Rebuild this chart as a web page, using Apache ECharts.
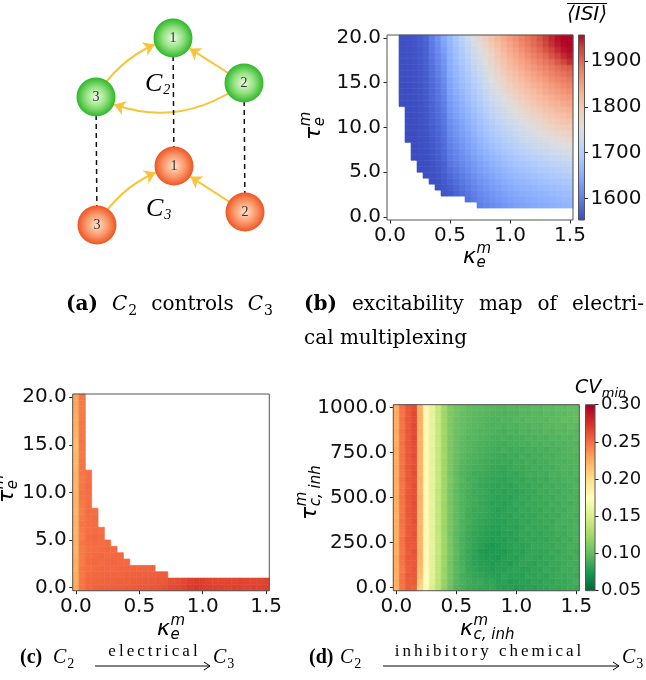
<!DOCTYPE html>
<html><head><meta charset="utf-8">
<script src="https://cdn.jsdelivr.net/npm/echarts@6/dist/echarts.min.js"></script>
<style>html,body{margin:0;padding:0;background:#fff}#chart{width:646px;height:680px}</style>
</head><body><div id="chart"></div>
<script>
// ---------------- data ----------------
const kappa = [0.00,0.05,0.10,0.15,0.20,0.25,0.30,0.35,0.40,0.45,0.50,0.55,0.60,0.65,0.70,0.75,0.80,0.85,0.90,0.95,1.00,1.05,1.10,1.15,1.20,1.25,1.30,1.35,1.40,1.45,1.50];
const tauE = [0.0,0.667,1.333,2.0,2.667,3.333,4.0,4.667,5.333,6.0,6.667,7.333,8.0,8.667,9.333,10.0,10.667,11.333,12.0,12.667,13.333,14.0,14.667,15.333,16.0,16.667,17.333,18.0,18.667,19.333,20.0];
const tauInh = [0.0,33.3,66.7,100.0,133.3,166.7,200.0,233.3,266.7,300.0,333.3,366.7,400.0,433.3,466.7,500.0,533.3,566.7,600.0,633.3,666.7,700.0,733.3,766.7,800.0,833.3,866.7,900.0,933.3,966.7,1000.0];
const kappaTicks = [0, 0.5, 1.0, 1.5];
const tauETicks = [0, 5, 10, 15, 20];
const tauInhTicks = [0, 250, 500, 750, 1000];
const isiRange = [1553, 1957];
const isiTicks = [1600, 1700, 1800, 1900];
const cvRange = [0.05, 0.30];
const cvTicks = [0.05, 0.10, 0.15, 0.20, 0.25, 0.30];

// (b) mean ISI; one row per tauE value (bottom to top); values belong to the LAST columns of kappa (right aligned)
const isiRows = [
 [],
 [],
 [1600,1607,1613,1619,1625,1630,1634,1638,1641,1645,1648,1651,1654,1657,1660,1662],
 [1587,1596,1605,1612,1619,1625,1630,1636,1640,1643,1647,1650,1653,1656,1660,1662,1665,1667],
 [1561,1565,1574,1583,1592,1601,1610,1617,1624,1630,1636,1642,1646,1650,1653,1657,1660,1663,1666,1669,1672,1674],
 [1558,1563,1570,1579,1588,1597,1606,1615,1622,1630,1636,1642,1648,1652,1656,1660,1663,1666,1670,1673,1676,1679,1681],
 [1556,1559,1566,1575,1584,1593,1602,1611,1620,1628,1635,1642,1649,1655,1659,1663,1667,1671,1675,1678,1682,1685,1688,1690],
 [1555,1557,1561,1568,1580,1589,1598,1608,1617,1626,1634,1642,1649,1656,1662,1667,1671,1675,1679,1683,1687,1691,1694,1697,1700],
 [1554,1555,1558,1563,1571,1585,1594,1604,1613,1623,1632,1640,1648,1655,1662,1669,1674,1679,1683,1688,1692,1696,1700,1704,1707,1710],
 [1554,1556,1559,1565,1573,1590,1600,1609,1619,1628,1638,1646,1655,1662,1669,1676,1681,1687,1691,1696,1701,1705,1709,1713,1717,1720],
 [1554,1555,1556,1561,1567,1576,1595,1605,1615,1624,1634,1644,1653,1662,1669,1677,1684,1690,1696,1701,1706,1711,1716,1720,1725,1729,1732],
 [1554,1555,1557,1562,1569,1578,1598,1608,1619,1629,1640,1650,1659,1668,1676,1684,1692,1698,1705,1711,1716,1722,1727,1732,1737,1741,1745],
 [1554,1556,1558,1564,1571,1581,1602,1613,1624,1634,1645,1656,1666,1675,1684,1692,1700,1707,1714,1720,1727,1732,1738,1744,1749,1754,1758],
 [1554,1554,1556,1558,1565,1573,1584,1606,1617,1628,1640,1651,1662,1672,1682,1691,1700,1708,1715,1723,1730,1737,1743,1749,1755,1761,1766,1770],
 [1554,1554,1557,1559,1567,1575,1586,1610,1622,1633,1645,1656,1668,1679,1689,1698,1707,1716,1724,1732,1739,1747,1754,1760,1767,1773,1778,1783],
 [1554,1555,1557,1560,1568,1577,1589,1613,1625,1637,1649,1661,1673,1684,1695,1705,1716,1724,1733,1741,1749,1757,1764,1772,1779,1785,1791,1796],
 [1554,1555,1558,1561,1570,1579,1592,1617,1629,1641,1654,1666,1678,1690,1702,1712,1722,1732,1741,1750,1759,1767,1775,1782,1790,1797,1803,1808],
 [1555,1555,1558,1562,1572,1582,1594,1621,1634,1646,1659,1671,1684,1697,1709,1720,1731,1741,1750,1760,1769,1777,1785,1793,1801,1808,1814,1820],
 [1555,1556,1559,1563,1573,1584,1597,1625,1638,1651,1664,1677,1690,1703,1716,1728,1739,1750,1760,1770,1779,1788,1796,1804,1812,1820,1826,1832],
 [1555,1555,1556,1559,1564,1575,1586,1600,1628,1641,1655,1668,1682,1695,1709,1723,1735,1747,1759,1769,1779,1789,1798,1807,1815,1824,1831,1838,1844],
 [1555,1555,1556,1560,1565,1577,1589,1603,1632,1646,1659,1673,1686,1700,1715,1730,1743,1756,1768,1778,1789,1798,1808,1817,1825,1834,1842,1849,1855],
 [1555,1555,1557,1560,1566,1578,1591,1606,1636,1650,1664,1678,1692,1706,1722,1737,1751,1764,1777,1788,1798,1808,1818,1827,1836,1845,1853,1860,1866],
 [1555,1555,1557,1561,1567,1580,1594,1609,1640,1654,1669,1683,1698,1712,1728,1745,1759,1773,1786,1797,1808,1818,1828,1837,1846,1855,1863,1871,1877],
 [1556,1556,1558,1562,1568,1582,1596,1612,1643,1658,1673,1688,1703,1718,1735,1752,1767,1781,1795,1806,1817,1828,1838,1847,1856,1866,1874,1881,1888],
 [1556,1556,1558,1562,1569,1584,1599,1615,1646,1662,1677,1693,1708,1724,1742,1759,1774,1790,1804,1815,1827,1837,1848,1857,1867,1876,1885,1892,1899],
 [1556,1557,1559,1563,1570,1586,1602,1619,1649,1665,1681,1698,1714,1730,1748,1767,1782,1798,1813,1825,1836,1847,1858,1867,1877,1887,1895,1903,1910],
 [1556,1557,1559,1564,1571,1588,1605,1623,1652,1669,1686,1703,1720,1737,1755,1774,1790,1806,1821,1833,1845,1856,1867,1878,1888,1898,1912,1925,1938],
 [1557,1558,1560,1565,1572,1591,1608,1627,1655,1673,1691,1708,1726,1744,1763,1781,1798,1814,1829,1842,1854,1866,1878,1888,1899,1915,1928,1940,1948],
 [1557,1558,1560,1566,1573,1594,1611,1632,1658,1677,1695,1714,1732,1751,1770,1789,1805,1822,1837,1850,1863,1876,1888,1899,1915,1928,1940,1950,1955],
 [1557,1559,1561,1567,1574,1597,1615,1638,1661,1681,1701,1720,1740,1760,1779,1797,1814,1830,1845,1858,1872,1884,1897,1908,1925,1938,1948,1955,1957],
 [1558,1559,1562,1567,1576,1600,1620,1645,1665,1686,1707,1728,1749,1770,1788,1806,1822,1837,1852,1865,1877,1889,1900,1915,1930,1942,1952,1957,1957]
];

// (c) CV_min, electrical coupling; one column per kappa value, values from tauE = 0 upwards
const cvElecCols = [
 [0.226,0.225,0.224,0.223,0.224,0.222,0.221,0.222,0.221,0.220,0.221,0.222,0.220,0.221,0.222,0.221,0.220,0.221,0.222,0.220,0.219,0.220,0.218,0.219,0.221,0.222,0.224,0.225,0.226,0.227,0.228],
 [0.247,0.246,0.245,0.246,0.245,0.244,0.245,0.246,0.244,0.245,0.246,0.245,0.244,0.245,0.246,0.247,0.246,0.245,0.246,0.247,0.246,0.245,0.246,0.247,0.246,0.245,0.246,0.245,0.244,0.245,0.246],
 [0.253,0.252,0.251,0.250,0.251,0.250,0.249,0.250,0.251,0.250,0.249,0.250,0.251,0.250,0.249,0.250,0.251,0.250,0.249],
 [0.254,0.253,0.252,0.251,0.252,0.251,0.250,0.251,0.252,0.251,0.250,0.251,0.250],
 [0.255,0.253,0.252,0.252,0.251,0.252,0.251,0.250,0.251,0.250],
 [0.255,0.254,0.253,0.252,0.252,0.251,0.252,0.251],
 [0.256,0.254,0.253,0.252,0.253,0.252,0.251],
 [0.256,0.255,0.253,0.253,0.252,0.252],
 [0.257,0.255,0.254,0.253,0.252],
 [0.257,0.256,0.254,0.253],
 [0.258,0.256,0.255,0.253],
 [0.258,0.257,0.255,0.254],
 [0.259,0.257,0.255,0.254],
 [0.260,0.258,0.256],
 [0.261,0.259,0.257],
 [0.264,0.262],[0.265,0.263],[0.267,0.265],[0.270,0.268],[0.272,0.270],[0.271,0.269],
 [0.269,0.267],[0.268,0.266],[0.268,0.266],[0.267,0.266],[0.268,0.266],[0.268,0.267],
 [0.267,0.266],[0.268,0.266],[0.267,0.266],[0.268,0.267]
];

// (d) CV_min, inhibitory chemical coupling; one row per tauInh value (bottom to top), one value per kappa
const cvInhRows = [
 [0.222,0.246,0.256,0.255,0.205,0.172,0.152,0.135,0.118,0.104,0.094,0.090,0.087,0.086,0.084,0.083,0.085,0.081,0.079,0.080,0.078,0.080,0.081,0.079,0.082,0.083,0.085,0.084,0.086,0.088,0.087],
 [0.225,0.248,0.257,0.258,0.210,0.175,0.154,0.137,0.119,0.105,0.095,0.091,0.088,0.085,0.086,0.082,0.083,0.080,0.081,0.078,0.079,0.081,0.080,0.082,0.081,0.084,0.083,0.086,0.085,0.087,0.089],
 [0.223,0.247,0.258,0.259,0.216,0.177,0.156,0.138,0.121,0.106,0.096,0.090,0.087,0.084,0.083,0.081,0.080,0.079,0.082,0.080,0.081,0.079,0.083,0.082,0.084,0.082,0.085,0.087,0.086,0.088,0.087],
 [0.224,0.245,0.256,0.260,0.219,0.178,0.157,0.139,0.120,0.107,0.097,0.092,0.086,0.083,0.081,0.080,0.078,0.080,0.079,0.081,0.082,0.080,0.081,0.083,0.082,0.085,0.084,0.086,0.088,0.087,0.089],
 [0.225,0.247,0.257,0.259,0.221,0.179,0.158,0.139,0.122,0.106,0.096,0.091,0.085,0.082,0.080,0.079,0.077,0.079,0.080,0.078,0.081,0.083,0.082,0.081,0.084,0.083,0.086,0.085,0.087,0.089,0.088],
 [0.226,0.248,0.258,0.260,0.222,0.180,0.157,0.140,0.121,0.107,0.097,0.090,0.086,0.081,0.079,0.077,0.078,0.076,0.079,0.080,0.079,0.082,0.084,0.083,0.082,0.085,0.084,0.087,0.088,0.087,0.090],
 [0.224,0.246,0.257,0.261,0.223,0.179,0.158,0.141,0.123,0.108,0.098,0.091,0.085,0.082,0.078,0.076,0.077,0.078,0.077,0.079,0.081,0.080,0.083,0.084,0.083,0.084,0.086,0.085,0.088,0.089,0.088],
 [0.225,0.247,0.258,0.259,0.222,0.181,0.159,0.140,0.122,0.107,0.097,0.092,0.087,0.083,0.080,0.078,0.076,0.077,0.079,0.080,0.082,0.081,0.082,0.085,0.084,0.086,0.085,0.088,0.087,0.090,0.089],
 [0.223,0.248,0.259,0.260,0.223,0.180,0.158,0.141,0.123,0.108,0.098,0.091,0.086,0.084,0.081,0.079,0.078,0.079,0.078,0.081,0.080,0.083,0.084,0.083,0.085,0.084,0.087,0.086,0.089,0.088,0.091],
 [0.224,0.246,0.257,0.261,0.222,0.179,0.157,0.140,0.122,0.106,0.097,0.092,0.087,0.083,0.082,0.080,0.079,0.078,0.080,0.079,0.082,0.084,0.083,0.085,0.084,0.086,0.085,0.088,0.087,0.090,0.091],
 [0.225,0.247,0.258,0.260,0.223,0.180,0.158,0.139,0.121,0.107,0.098,0.093,0.088,0.085,0.083,0.081,0.080,0.079,0.081,0.082,0.081,0.083,0.085,0.084,0.086,0.085,0.087,0.089,0.088,0.090,0.092],
 [0.224,0.248,0.257,0.262,0.222,0.181,0.159,0.141,0.122,0.108,0.099,0.092,0.089,0.086,0.084,0.082,0.081,0.080,0.080,0.083,0.082,0.084,0.083,0.086,0.085,0.087,0.086,0.089,0.090,0.089,0.091],
 [0.223,0.247,0.258,0.261,0.223,0.180,0.157,0.140,0.123,0.107,0.098,0.093,0.088,0.087,0.085,0.083,0.082,0.081,0.082,0.081,0.084,0.083,0.085,0.084,0.087,0.086,0.088,0.087,0.090,0.091,0.090],
 [0.225,0.246,0.259,0.262,0.222,0.179,0.158,0.141,0.122,0.108,0.099,0.094,0.089,0.086,0.086,0.084,0.082,0.080,0.081,0.083,0.082,0.085,0.084,0.086,0.085,0.088,0.087,0.089,0.088,0.091,0.092],
 [0.224,0.247,0.258,0.263,0.223,0.180,0.159,0.140,0.121,0.107,0.098,0.093,0.090,0.087,0.085,0.083,0.081,0.082,0.080,0.082,0.084,0.083,0.086,0.085,0.087,0.086,0.089,0.088,0.090,0.089,0.091],
 [0.226,0.248,0.259,0.262,0.224,0.181,0.158,0.141,0.123,0.108,0.099,0.094,0.089,0.088,0.086,0.084,0.083,0.081,0.082,0.081,0.083,0.085,0.084,0.087,0.086,0.088,0.087,0.090,0.089,0.092,0.091],
 [0.225,0.247,0.258,0.261,0.223,0.180,0.157,0.140,0.122,0.107,0.098,0.093,0.090,0.087,0.087,0.085,0.082,0.083,0.081,0.083,0.082,0.084,0.086,0.085,0.088,0.087,0.089,0.088,0.091,0.090,0.092],
 [0.224,0.246,0.257,0.263,0.222,0.179,0.158,0.141,0.123,0.108,0.099,0.094,0.091,0.088,0.086,0.084,0.083,0.082,0.083,0.082,0.084,0.086,0.085,0.087,0.086,0.089,0.088,0.090,0.089,0.091,0.093],
 [0.225,0.248,0.259,0.262,0.224,0.181,0.159,0.142,0.122,0.109,0.100,0.095,0.090,0.089,0.087,0.085,0.084,0.083,0.082,0.084,0.085,0.084,0.087,0.086,0.088,0.087,0.090,0.089,0.091,0.092,0.091],
 [0.224,0.247,0.258,0.264,0.223,0.180,0.158,0.141,0.123,0.108,0.099,0.094,0.091,0.088,0.088,0.086,0.085,0.084,0.083,0.085,0.084,0.086,0.088,0.087,0.089,0.088,0.091,0.090,0.092,0.091,0.093],
 [0.226,0.248,0.259,0.263,0.224,0.181,0.159,0.142,0.124,0.109,0.100,0.095,0.092,0.090,0.089,0.087,0.086,0.085,0.084,0.086,0.087,0.086,0.088,0.089,0.088,0.090,0.089,0.091,0.093,0.092,0.094],
 [0.225,0.247,0.258,0.262,0.223,0.180,0.158,0.141,0.123,0.109,0.101,0.096,0.093,0.091,0.090,0.088,0.087,0.086,0.087,0.085,0.088,0.087,0.089,0.088,0.090,0.089,0.091,0.092,0.091,0.093,0.094],
 [0.224,0.248,0.259,0.264,0.224,0.181,0.159,0.142,0.124,0.110,0.101,0.097,0.094,0.092,0.091,0.089,0.088,0.087,0.086,0.088,0.087,0.089,0.088,0.090,0.089,0.091,0.090,0.092,0.093,0.094,0.093],
 [0.226,0.247,0.258,0.263,0.225,0.180,0.158,0.141,0.123,0.109,0.102,0.098,0.095,0.093,0.091,0.090,0.089,0.088,0.089,0.087,0.089,0.088,0.090,0.089,0.091,0.090,0.092,0.091,0.093,0.094,0.095],
 [0.225,0.248,0.259,0.264,0.224,0.181,0.159,0.142,0.124,0.110,0.102,0.098,0.096,0.094,0.092,0.091,0.090,0.089,0.088,0.090,0.089,0.091,0.090,0.092,0.091,0.093,0.092,0.094,0.093,0.095,0.094],
 [0.224,0.247,0.258,0.265,0.223,0.180,0.158,0.141,0.123,0.110,0.103,0.099,0.096,0.095,0.093,0.092,0.091,0.090,0.091,0.089,0.091,0.090,0.092,0.091,0.093,0.092,0.094,0.093,0.095,0.094,0.096],
 [0.226,0.248,0.259,0.264,0.225,0.181,0.159,0.142,0.124,0.111,0.103,0.100,0.097,0.095,0.094,0.093,0.092,0.091,0.090,0.092,0.091,0.093,0.092,0.094,0.093,0.095,0.094,0.096,0.095,0.097,0.096],
 [0.225,0.247,0.258,0.265,0.224,0.180,0.158,0.141,0.123,0.110,0.104,0.100,0.098,0.096,0.095,0.093,0.092,0.093,0.091,0.093,0.092,0.094,0.093,0.095,0.094,0.096,0.095,0.097,0.096,0.098,0.097],
 [0.224,0.248,0.259,0.264,0.225,0.181,0.159,0.142,0.124,0.111,0.104,0.101,0.098,0.097,0.096,0.094,0.093,0.092,0.094,0.093,0.095,0.094,0.096,0.095,0.097,0.096,0.098,0.097,0.099,0.098,0.099],
 [0.226,0.247,0.258,0.265,0.224,0.180,0.158,0.141,0.123,0.110,0.105,0.101,0.099,0.097,0.096,0.095,0.094,0.093,0.092,0.094,0.093,0.095,0.094,0.096,0.095,0.097,0.096,0.098,0.097,0.099,0.100],
 [0.225,0.248,0.259,0.264,0.223,0.181,0.159,0.142,0.124,0.111,0.105,0.102,0.099,0.098,0.097,0.096,0.095,0.094,0.093,0.095,0.094,0.096,0.095,0.097,0.096,0.098,0.097,0.099,0.098,0.100,0.099]
];

// (a) network diagram
const nodeIds = ['C2-1','C2-2','C2-3','C3-1','C3-2','C3-3'];
const nodeText = ['1','2','3','1','2','3'];
const nodeLayer = ['C2','C2','C2','C3','C3','C3'];
const nodeX = [113, 184, 36, 114, 185, 37];
const nodeY = [38, 83, 97, 166, 212, 225];
const arrowLinks = [['C2-3','C2-1',0.2],['C2-2','C2-1',0],['C2-2','C2-3',0.3],['C3-3','C3-1',0.2],['C3-2','C3-1',0]];
const dashedLinks = [['C2-1','C3-1'],['C2-2','C3-2'],['C2-3','C3-3']];

// ---------------- styles ----------------
const coolwarm = ['#3b4cc0','#4d68d7','#6282ea','#779af7','#8db0fe','#a3c2ff','#b8d0f9','#ccd9ee','#dddddd','#ecd3c5','#f5c4ad','#f7b194','#f49a7b','#ec7f63','#de604d','#cb3e38','#b40426'];
const rdylgnR = ['#006837','#1a9850','#66bd63','#a6d96a','#d9ef8b','#ffffbf','#fee08b','#fdae61','#f46d43','#d73027','#a50026'];
const SANS = '"DejaVu Sans", sans-serif';
const SERIF = '"Liberation Serif", "DejaVu Serif", serif';
const WSERIF = '"DejaVu Serif", "Liberation Serif", serif';
const TICK_FS = 20;

// ---------------- build data ----------------
const isiData = [];
isiRows.forEach((row, r) => { const off = kappa.length - row.length; row.forEach((v, k) => isiData.push([kappa[off + k], tauE[r], v])); });
const elecData = [];
cvElecCols.forEach((col, i) => col.forEach((v, r) => elecData.push([kappa[i], tauE[r], v])));
const inhData = [];
cvInhRows.forEach((row, r) => row.forEach((v, c) => inhData.push([kappa[c], tauInh[r], v])));

const step = a => (a[a.length - 1] - a[0]) / (a.length - 1);
const dK = step(kappa), dTE = step(tauE), dTI = step(tauInh);

function cellItem(dx, dy) {
  return function (params, api) {
    const x = api.value(0), y = api.value(1);
    const a = api.coord([x - dx / 2, y + dy / 2]);
    const b = api.coord([x + dx / 2, y - dy / 2]);
    const c = api.visual('color');
    return { type: 'rect', shape: { x: a[0], y: a[1], width: b[0] - a[0], height: b[1] - a[1] },
      style: { fill: c, stroke: c, lineWidth: 0.6 } };
  };
}
function colorbarItem(colors) {
  return function (params, api) {
    const a = api.coord([0, api.value(1)]);
    const b = api.coord([1, api.value(2)]);
    return { type: 'rect', shape: { x: a[0], y: b[1], width: b[0] - a[0], height: a[1] - b[1] },
      style: { fill: new echarts.graphic.LinearGradient(0, 1, 0, 0, colors.map((c, i) => ({ offset: i / (colors.length - 1), color: c }))) } };
  };
}

function tickAxis(gi, min, max, ticks, fmt, extra) {
  return Object.assign({
    type: 'value', gridIndex: gi, min: min, max: max,
    axisLine: { show: false, onZero: false },
    axisTick: { show: true, inside: false, length: 3.5, customValues: ticks, lineStyle: { color: '#222', width: 1 } },
    axisLabel: { show: true, customValues: ticks, formatter: fmt, fontFamily: SANS, fontSize: TICK_FS, color: '#111', margin: 6 },
    splitLine: { show: false }
  }, extra || {});
}
function hiddenAxis(gi, min, max, extra) {
  return Object.assign({ type: 'value', gridIndex: gi, min: min, max: max, show: false, splitLine: { show: false } }, extra || {});
}
const f1 = v => v.toFixed(1), f2 = v => v.toFixed(2), f0 = v => String(Math.round(v));

const grids = [
  { left: 60, top: 0, width: 220, height: 250, show: false },
  { left: 387, top: 35, width: 186, height: 185, show: true, borderColor: '#555', borderWidth: 1, z: 5 },
  { left: 578.5, top: 35, width: 6, height: 185, show: true, borderColor: '#555', borderWidth: 1, z: 5 },
  { left: 72.7, top: 394, width: 196.6, height: 196.7, show: true, borderColor: '#555', borderWidth: 1, z: 5 },
  { left: 393.3, top: 404.7, width: 186, height: 186, show: true, borderColor: '#555', borderWidth: 1, z: 5 },
  { left: 585.5, top: 404.7, width: 9.5, height: 186, show: true, borderColor: '#555', borderWidth: 1, z: 5 }
];
const kMin = kappa[0] - dK / 2, kMax = kappa[kappa.length - 1] + dK / 2;
const xAxes = [
  hiddenAxis(0, 0, 220),
  tickAxis(1, kMin, kMax, kappaTicks, f1),
  hiddenAxis(2, 0, 1),
  tickAxis(3, kMin, kMax, kappaTicks, f1),
  tickAxis(4, kMin, kMax, kappaTicks, f1),
  hiddenAxis(5, 0, 1)
];
const yAxes = [
  hiddenAxis(0, 0, 250, { inverse: true }),
  tickAxis(1, tauE[0] - dTE / 2, tauE[tauE.length - 1] + dTE / 2, tauETicks, f1),
  tickAxis(2, isiRange[0], isiRange[1], isiTicks, f0, { position: 'right' }),
  tickAxis(3, tauE[0] - dTE / 2, tauE[tauE.length - 1] + dTE / 2, tauETicks, f1),
  tickAxis(4, tauInh[0] - dTI / 2, tauInh[tauInh.length - 1] + dTI / 2, tauInhTicks, f1),
  tickAxis(5, cvRange[0], cvRange[1], cvTicks, f2, { position: 'right' })
];
yAxes[5].axisLabel.fontSize = 18;

// graph nodes/links
const greenGrad = { type: 'radial', x: 0.5, y: 0.5, r: 0.5, colorStops: [{ offset: 0, color: '#ecfce2' }, { offset: 0.55, color: '#8fe07c' }, { offset: 1, color: '#2fb62a' }] };
const redGrad = { type: 'radial', x: 0.5, y: 0.5, r: 0.5, colorStops: [{ offset: 0, color: '#ffe2cc' }, { offset: 0.55, color: '#fb9a6c' }, { offset: 1, color: '#ee5524' }] };
const graphNodes = nodeIds.map((id, i) => ({ name: id, value: [nodeX[i], nodeY[i]], text: nodeText[i],
  itemStyle: { color: nodeLayer[i] === 'C2' ? greenGrad : redGrad } }));
const graphLinks = arrowLinks.map(l => ({ source: l[0], target: l[1], symbol: ['none', 'arrow'], symbolSize: [4, 11],
  lineStyle: { color: '#f8c53a', width: 2, curveness: l[2], opacity: 1 } }))
  .concat(dashedLinks.map(l => ({ source: l[0], target: l[1], symbol: ['none', 'none'],
  lineStyle: { color: '#111', width: 1.5, type: [5, 4], curveness: 0, opacity: 1 } })));

// ---------------- text helpers ----------------
const mctx = document.createElement('canvas').getContext('2d');
function tw(t, font) { mctx.font = font; return mctx.measureText(t).width; }
function F(style, size, fam) { return style + ' ' + size + 'px ' + fam; }
function seg(t, style, size, fam, dy, gap) { return { t: t, font: F(style, size, fam), size: size, dy: dy || 0, gap: gap || 0 }; }
function segsWidth(segs) { return segs.reduce((s, g) => s + g.gap + tw(g.t, g.font), 0); }
function seqGroup(x, y, segs, rotation) {
  let cx = 0; const kids = [];
  segs.forEach(s => {
    cx += s.gap || 0;
    kids.push({ type: 'text', x: cx, y: (s.dy || 0) - 0.34 * s.size, style: { text: s.t, font: s.font, fill: '#000', align: 'left', verticalAlign: 'middle' } });
    cx += tw(s.t, s.font);
  });
  return { type: 'group', x: x, y: y, rotation: rotation || 0, children: kids, silent: true };
}
function justified(x0, x1, y, words) {
  const ws = words.map(segsWidth);
  const gap = (x1 - x0 - ws.reduce((a, b) => a + b, 0)) / (words.length - 1);
  const out = []; let cx = x0;
  words.forEach((w, i) => { out.push(seqGroup(cx, y, w)); cx += ws[i] + gap; });
  return out;
}
function spaced(cx, y, text, font, size, sp) {
  const chars = text.split('');
  const ws = chars.map(c => tw(c, font));
  const total = ws.reduce((a, b) => a + b, 0) + sp * (chars.length - 1);
  let x = cx - total / 2; const kids = [];
  chars.forEach((c, i) => { kids.push({ type: 'text', x: x, y: y - 0.34 * size, style: { text: c, font: font, fill: '#000', verticalAlign: 'middle' } }); x += ws[i] + sp; });
  return { type: 'group', children: kids, silent: true };
}
function mathLabel(x, y, main, sup, sub, rotation, size) {
  size = size || 22; const ss = Math.round(size * 0.68);
  const mf = F('italic', size, SANS), sf = F('italic', ss, SANS);
  const mw = tw(main, mf);
  const kids = [
    { type: 'text', x: 0, y: -0.34 * size, style: { text: main, font: mf, fill: '#000', verticalAlign: 'middle' } },
    { type: 'text', x: mw + 0.5, y: -11 - 0.34 * ss, style: { text: sup, font: sf, fill: '#000', verticalAlign: 'middle' } },
    { type: 'text', x: mw + 0.5, y: 3 - 0.34 * ss, style: { text: sub, font: sf, fill: '#000', verticalAlign: 'middle' } }
  ];
  return { type: 'group', x: x, y: y, rotation: rotation || 0, children: kids, silent: true };
}
const CAP = 20, CAPS = 14;
function calC(n, fam, size) { fam = fam || SERIF; size = size || CAP; return [seg('C', 'italic', size, fam, 0, 0), seg(n, 'normal', Math.round(size * 0.7), fam, 4, 1)]; }

const graphics = [];
// diagram layer labels
graphics.push(seqGroup(145, 93, [seg('C', 'italic', 26, SERIF), seg('2', 'italic', 14, SERIF, 2, 1)]));
graphics.push(seqGroup(146, 218, [seg('C', 'italic', 26, SERIF), seg('3', 'italic', 14, SERIF, 2, 1)]));
// axis labels
graphics.push(mathLabel(463, 265, '\u03ba', 'm', 'e', 0, 22));
graphics.push(mathLabel(322, 140, '\u03c4', 'm', 'e', Math.PI / 2, 22));
graphics.push(mathLabel(157, 637, '\u03ba', 'm', 'e', 0, 22));
graphics.push(mathLabel(15, 503, '\u03c4', 'm', 'e', Math.PI / 2, 22));
graphics.push(mathLabel(460, 637, '\u03ba', 'm', 'c, inh', 0, 22));
graphics.push(mathLabel(318, 520, '\u03c4', 'm', 'c, inh', Math.PI / 2, 22));
// colorbar titles
graphics.push({ type: 'text', x: 587, y: 15, silent: true, style: { text: '\u27e8ISI\u27e9', font: F('italic', 20, SANS), fill: '#000', align: 'center', verticalAlign: 'middle' } });
graphics.push({ type: 'line', silent: true, shape: { x1: 567, y1: 3.5, x2: 607, y2: 3.5 }, style: { stroke: '#000', lineWidth: 1.2 } });
graphics.push(seqGroup(575, 395, [seg('CV', 'italic', 19, SANS), seg('min', 'italic', 13, SANS, 3, 0.5)]));
// captions (a), (b): justified first lines
const TC = 20;
justified(66, 273, 312, [[seg('(a)', 'bold', TC, WSERIF)], calC('2', WSERIF, TC), [seg('controls', 'normal', TC, WSERIF)], calC('3', WSERIF, TC)]).forEach(g => graphics.push(g));
justified(304, 644, 312, [[seg('(b)', 'bold', TC, WSERIF)], [seg('excitability', 'normal', TC, WSERIF)], [seg('map', 'normal', TC, WSERIF)], [seg('of', 'normal', TC, WSERIF)], [seg('electri-', 'normal', TC, WSERIF)]]).forEach(g => graphics.push(g));
graphics.push(seqGroup(304, 346, [seg('cal multiplexing', 'normal', TC, WSERIF)]));
// captions (c), (d)
graphics.push(seqGroup(20, 665, [seg('(c)', 'bold', CAP, SERIF)]));
graphics.push(seqGroup(53, 665, calC('2')));
graphics.push(seqGroup(213, 665, calC('3')));
graphics.push(seqGroup(309, 665, [seg('(d)', 'bold', CAP, SERIF)]));
graphics.push(seqGroup(340, 665, calC('2')));
graphics.push(seqGroup(622, 665, calC('3')));
function xArrow(x1, x2, y) {
  return { type: 'group', silent: true, children: [
    { type: 'line', shape: { x1: x1, y1: y, x2: x2, y2: y }, style: { stroke: '#000', lineWidth: 1 } },
    { type: 'polyline', shape: { points: [[x2 - 6, y - 4], [x2, y], [x2 - 6, y + 4]] }, style: { stroke: '#000', lineWidth: 1, fill: null } }
  ] };
}
graphics.push(xArrow(95, 210, 666));
graphics.push(xArrow(383, 619, 666));
graphics.push(spaced(153, 657, 'electrical', F('normal', 17, SERIF), 17, 3));
graphics.push(spaced(488, 657, 'inhibitory chemical', F('normal', 17, SERIF), 17, 3));

const option = {
  animation: false,
  backgroundColor: '#fff',
  grid: grids,
  xAxis: xAxes,
  yAxis: yAxes,
  visualMap: [
    { type: 'continuous', show: false, min: isiRange[0], max: isiRange[1], dimension: 2, seriesIndex: [1], inRange: { color: coolwarm } },
    { type: 'continuous', show: false, min: cvRange[0], max: cvRange[1], dimension: 2, seriesIndex: [3, 4], inRange: { color: rdylgnR } }
  ],
  series: [
    { type: 'graph', coordinateSystem: 'cartesian2d', xAxisIndex: 0, yAxisIndex: 0, symbol: 'circle', symbolSize: 39,
      data: graphNodes, links: graphLinks, z: 3,
      label: { show: true, position: 'inside', fontFamily: SERIF, fontSize: 14, color: '#333', formatter: p => p.data.text },
      emphasis: { disabled: true } },
    { type: 'custom', xAxisIndex: 1, yAxisIndex: 1, data: isiData, renderItem: cellItem(dK, dTE), silent: true },
    { type: 'custom', xAxisIndex: 2, yAxisIndex: 2, data: [[0, isiRange[0], isiRange[1]]], renderItem: colorbarItem(coolwarm), silent: true },
    { type: 'custom', xAxisIndex: 3, yAxisIndex: 3, data: elecData, renderItem: cellItem(dK, dTE), silent: true },
    { type: 'custom', xAxisIndex: 4, yAxisIndex: 4, data: inhData, renderItem: cellItem(dK, dTI), silent: true },
    { type: 'custom', xAxisIndex: 5, yAxisIndex: 5, data: [[0, cvRange[0], cvRange[1]]], renderItem: colorbarItem(rdylgnR), silent: true }
  ],
  graphic: graphics
};
const chart = echarts.init(document.getElementById('chart'), null, { renderer: 'canvas' });
chart.setOption(option);
</script></body></html>
